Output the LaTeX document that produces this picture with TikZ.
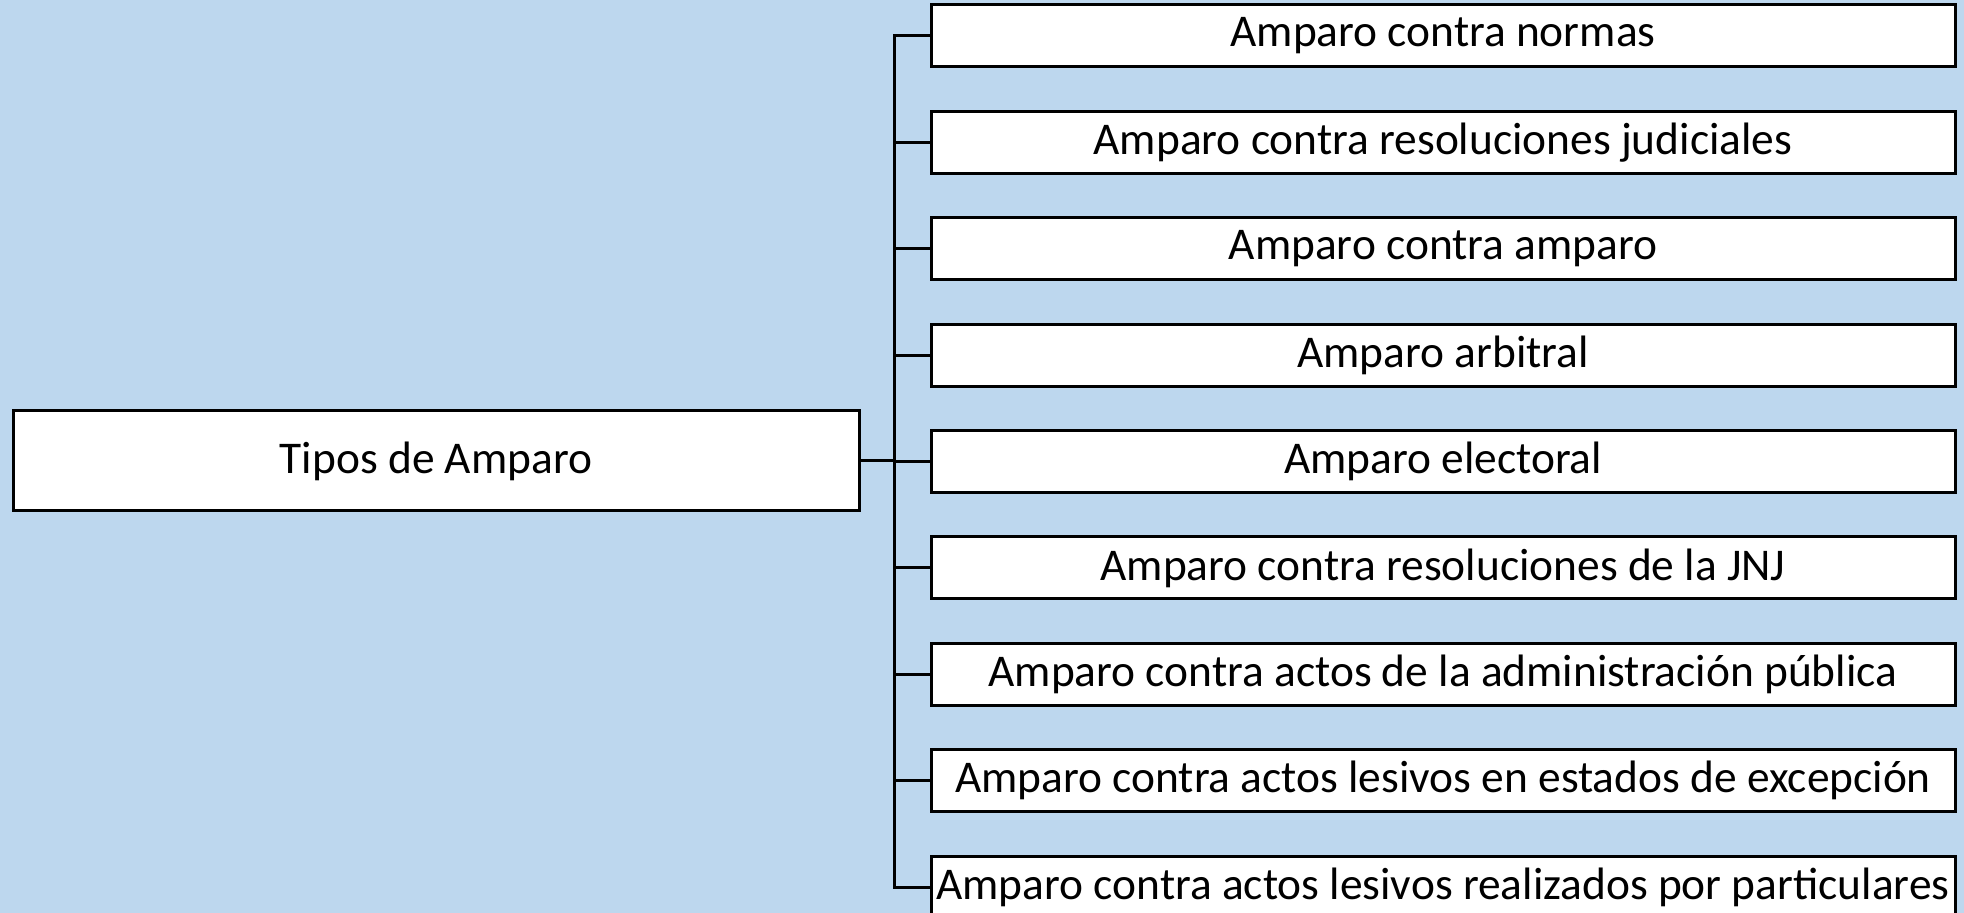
\documentclass[tikz,border=0pt]{standalone}
\usepackage{fontspec}
\setmainfont{Carlito}
\definecolor{bgblue}{RGB}{189,215,238}
\begin{document}
\begin{tikzpicture}[x=0.5pt,y=-0.5pt,
  box/.style={draw=black,fill=white,line width=1.5pt,inner sep=0pt,font=\fontsize{22.7}{26}\selectfont},
  child/.style={box,minimum width=512pt,minimum height=31pt},
  conn/.style={draw=black,line width=1.5pt}]
\fill[bgblue] (0,0) rectangle (1964,913);
\useasboundingbox (0,0) rectangle (1964,913);
\node[box,minimum width=423pt,minimum height=50pt] (root) at (436,461) {Tipos de Amparo};
\coordinate (t) at (894,461);
\foreach \i/\txt in {0/Amparo contra normas,
  1/Amparo contra resoluciones judiciales,
  2/Amparo contra amparo,
  3/Amparo arbitral,
  4/Amparo electoral,
  5/Amparo contra resoluciones de la JNJ,
  6/Amparo contra actos de la administración pública,
  7/Amparo contra actos lesivos en estados de excepción,
  8/Amparo contra actos lesivos realizados por particulares}{
  \node[child] (c\i) at (1443,{36+106.4*\i}) {\txt};
  \draw[conn] (c\i.west) -| (t);
}
\draw[conn] (root.east) -- (t);
\end{tikzpicture}
\end{document}
